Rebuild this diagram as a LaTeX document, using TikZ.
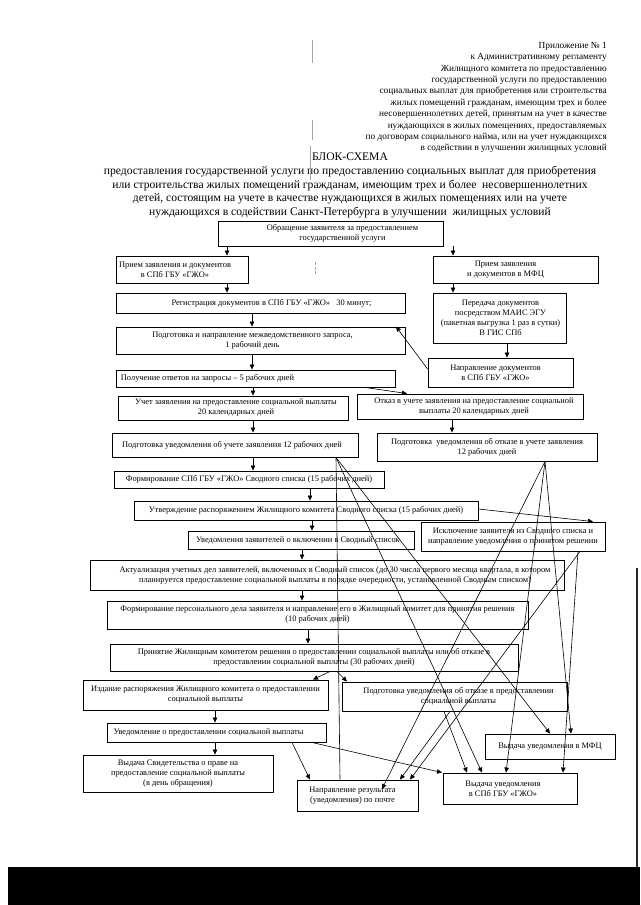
\documentclass[tikz,border=0pt]{standalone}
\usepackage{fontspec}
\setmainfont{Liberation Serif}
\usetikzlibrary{arrows.meta,calc}
\tikzset{
  frame/.style={draw, line width=0.9pt, inner sep=0pt},
  txt/.style={font=\fontsize{8.4}{10}\selectfont, align=center, inner sep=0pt},
  hdr/.style={font=\fontsize{9.3}{11.4}\selectfont, align=right, inner sep=0pt},
  ttl/.style={font=\fontsize{11.6}{13.7}\selectfont, align=center, inner sep=0pt},
  arr/.style={line width=0.6pt, -{Triangle[length=5pt,width=4.5pt]}},
  ln/.style={line width=0.6pt},
  scan/.style={gray!70, line width=0.7pt}
}
\newcommand\mybox[7]{%
  \node[frame, minimum width={(#4-#2)*1pt}, minimum height={(#5-#3)*1pt}] (#1) at ({(#2+#4)/2},{(#3+#5)/2}) {};
  \node[txt] (#1t) at ([xshift=#6pt]#1.center) {#7};
}
\newcommand\varr[3]{\coordinate (vx) at (#3,0); \draw[arr] (#1.south -| vx) -- (#2.north -| vx);}
\newcommand\dline[5]{\coordinate (ua) at (#3,0); \coordinate (ub) at (#5,0); \draw[#1] (#2 -| ua) -- (#4 -| ub);}
\begin{document}
\begin{tikzpicture}[x=1pt,y=-1pt]
\useasboundingbox (0,0) rectangle (640,905);
\fill[white] (0,0) rectangle (640,905);

% header
\node[hdr, anchor=north east] (hd) at (607,42) {Приложение № 1\\к Административному регламенту\\Жилищного комитета по предоставлению\\государственной услуги по предоставлению\\социальных выплат для приобретения или строительства\\жилых помещений гражданам, имеющим трех и более\\несовершеннолетних детей, принятым на учет в качестве\\нуждающихся в жилых помещениях, предоставляемых\\по договорам социального найма, или на учет нуждающихся\\в содействии в улучшении жилищных условий};
\node[ttl] (bs) at (350,157) {БЛОК-СХЕМА};
\node[ttl, anchor=north] (tt) at (350,166) {предоставления государственной услуги по предоставлению социальных выплат для приобретения\\или строительства жилых помещений гражданам, имеющим трех и более~ несовершеннолетних\\детей, состоящим на учете в качестве нуждающихся в жилых помещениях или на учете\\нуждающихся в содействии Санкт-Петербурга в улучшении~ жилищных условий};

% scan marks
\draw[scan] (312,40) -- (312,63);
\draw[scan] (312,120) -- (312,140);
\draw[scan] (310,146) -- (310,180);
\draw[scan, dash pattern=on 3pt off 1.5pt] (315,262) -- (315,275);
\draw[black!85, line width=2pt] (637,568) -- (637,868);
\fill[black] (8,867) rectangle (640,905);

% boxes
\mybox{A}{218}{221}{443}{246}{12}{Обращение заявителя за предоставлением\\государственной услуги}
\mybox{B1}{116}{256}{248}{283}{-7}{Прием заявления и документов\\в СПб ГБУ «ГЖО»}
\mybox{B2}{433}{256}{598}{283}{-10}{Прием заявления\\и документов в МФЦ}
\mybox{C1}{116}{293}{405}{313}{11}{Регистрация документов в СПб ГБУ «ГЖО»~~~30 минут;}
\mybox{C2}{433}{293}{566}{343}{1}{Передача документов\\посредством МАИС ЭГУ\\(пакетная выгрузка 1 раз в сутки)\\В ГИС СПб}
\mybox{D1}{116}{327}{405}{354}{-8}{Подготовка и направление межведомственного запроса,\\1 рабочий день}
\mybox{D2}{428}{358}{573}{387}{-5}{Направление документов\\в СПб ГБУ «ГЖО»}
\mybox{E}{116}{370}{395}{387}{-48}{Получение ответов на запросы – 5 рабочих дней}
\mybox{F1}{118}{396}{348}{420}{3}{Учет заявления на предоставление социальной выплаты\\20 календарных дней}
\mybox{F2}{357}{394}{583}{419}{4}{Отказ в учете заявления на предоставление социальной\\выплаты 20 календарных дней}
\mybox{G1}{112}{433}{358}{457}{-3}{Подготовка уведомления об учете заявления 12 рабочих дней}
\mybox{G2}{377}{433}{597}{461}{0}{Подготовка~ уведомления об отказе в учете заявления\\12 рабочих дней}
\mybox{H}{114}{471}{384}{488}{0}{Формирование СПб ГБУ «ГЖО» Сводного списка (15 рабочих дней)}
\mybox{I}{134}{501}{478}{520}{0}{Утверждение распоряжением Жилищного комитета Сводного списка (15 рабочих дней)}
\mybox{J}{188}{531}{414}{549}{-3}{Уведомления заявителей о включении в Сводный список}
\mybox{K}{421}{522}{605}{551}{0}{Исключение заявителя из Сводного списка и\\направление уведомления о принятом решении}
\mybox{L}{90}{560}{564}{590}{8}{Актуализация учетных дел заявителей, включенных в Сводный список (до 30 числа первого месяца квартала, в котором\\планируется предоставление социальной выплаты в порядке очередности, установленной Сводным списком)}
\mybox{M}{107}{601}{528}{629}{0}{Формирование персонального дела заявителя и направление его в Жилищный комитет для принятия решения\\(10 рабочих дней)}
\mybox{N}{110}{644}{518}{671}{0}{Принятие Жилищным комитетом решения о предоставлении социальной выплаты или об отказе в\\предоставлении социальной выплаты (30 рабочих дней)}
\mybox{O1}{83}{680}{328}{710}{0}{Издание распоряжения Жилищного комитета о предоставлении\\социальной выплаты}
\mybox{O2}{342}{682}{567}{711}{4}{Подготовка уведомления об отказе в предоставлении\\социальной выплаты}
\mybox{P}{107}{723}{326}{742}{-8}{Уведомление о предоставлении социальной выплаты}
\mybox{Q}{485}{734}{615}{759}{0}{Выдача уведомления в МФЦ}
\mybox{R}{83}{755}{273}{792}{0}{Выдача Свидетельства о праве на\\предоставление социальной выплаты\\(в день обращения)}
\mybox{S}{297}{780}{418}{811}{-5}{Направление результата\\(уведомления) по почте}
\mybox{T}{443}{773}{577}{804}{-7}{Выдача уведомления\\в СПб ГБУ «ГЖО»}

% vertical arrows
\varr{A}{B1}{227}
\varr{A}{B2}{453}
\varr{B1}{C1}{227}
\varr{B2}{C2}{453}
\varr{C1}{D1}{252}
\varr{C2}{D2}{507}
\varr{D1}{E}{252}
\varr{E}{F1}{253}
\varr{F1}{G1}{253}
\varr{F2}{G2}{452}
\varr{G1}{H}{253}
\varr{H}{I}{310}
\varr{I}{J}{312}
\varr{J}{L}{302}
\varr{L}{M}{302}
\varr{M}{N}{308}
\varr{O1}{P}{215}
\varr{P}{R}{215}

% diagonal connectors
\coordinate (ya) at (0,369);
\coordinate (ub) at (396,0);
\draw[arr] (D2.west |- ya) -- (D1.north -| ub);
\dline{arr}{E.south}{365}{F2.north}{407}
\coordinate (yb) at (0,509);
\coordinate (ub) at (593,0);
\draw[arr] (I.east |- yb) -- (K.north -| ub);
\dline{ln}{G1.south}{336}{S.north}{340}
\dline{arr}{G1.south}{336}{T.north}{482}
\dline{arr}{G1.south}{336}{Q.north}{550}
\coordinate (ua) at (545,0);
\coordinate (sin) at (382,789);
\draw[arr] (G2.south -| ua) -- (sin);
\dline{arr}{G2.south}{545}{T.north}{506}
\dline{arr}{G2.south}{545}{Q.north}{571}
\dline{arr}{K.south}{580}{S.north}{410}
\dline{arr}{K.south}{578}{T.north}{563}
\dline{arr}{N.south}{330}{O1.north}{313}
\dline{arr}{N.south}{337}{O2.north}{347}
\dline{arr}{O2.south}{450}{S.north}{400}
\dline{arr}{O2.south}{444}{T.north}{467}
\dline{arr}{P.south}{292}{S.north}{310}
\dline{arr}{P.south}{312}{T.north}{442}
\end{tikzpicture}
\end{document}
